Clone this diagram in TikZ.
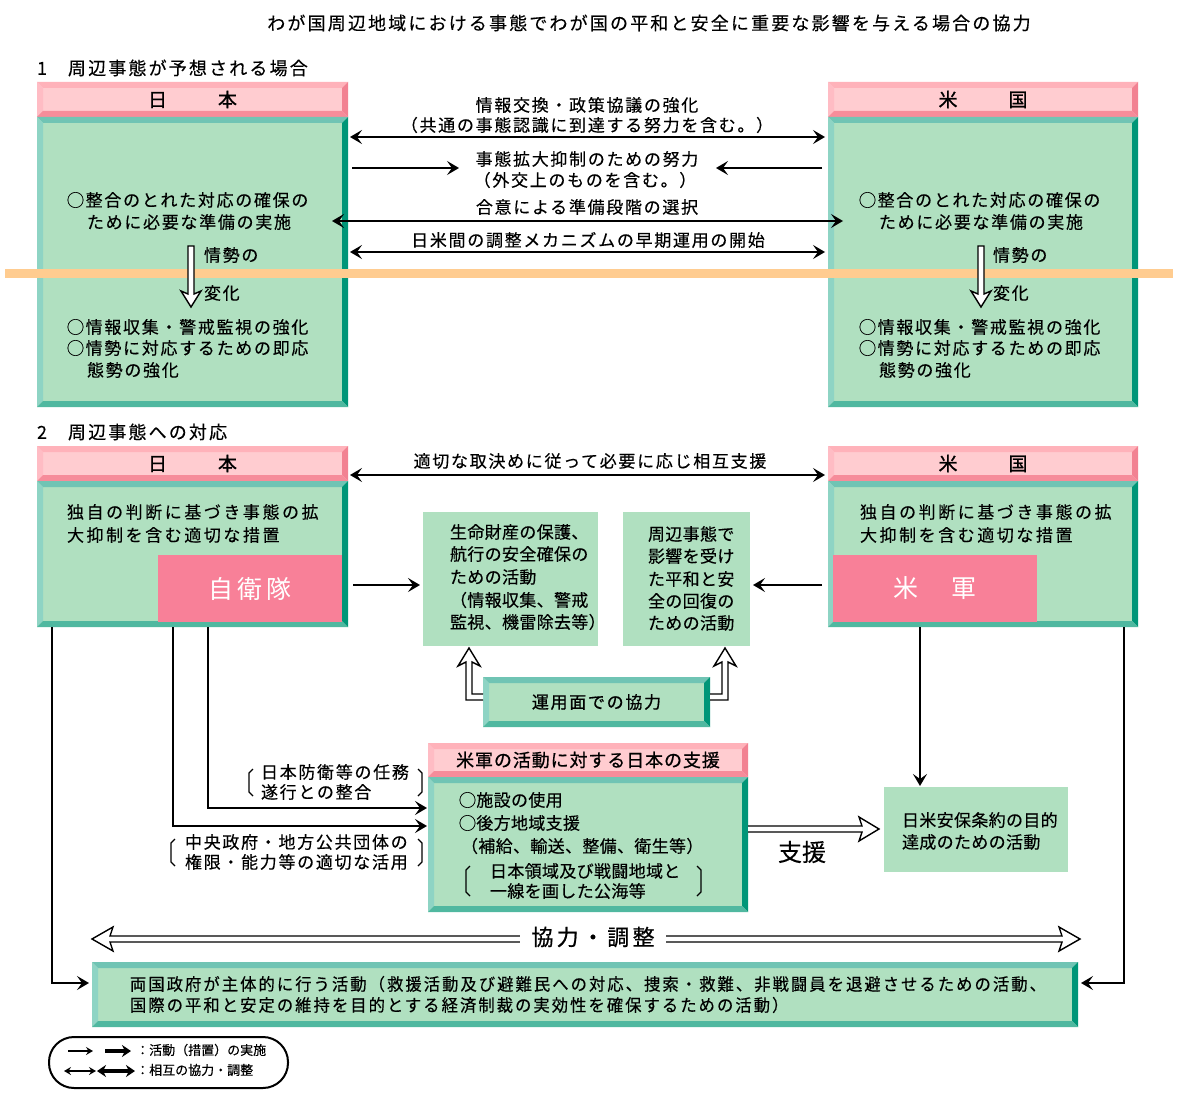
\documentclass[tikz,border=0pt]{standalone}
\usepackage{fontspec}
\setmainfont{Noto Sans CJK JP}
\newfontfamily\jpN{Noto Sans CJK JP}[FakeBold=0.3]
\newfontfamily\jpA{Noto Sans CJK JP}[LetterSpace=10,FakeBold=0.3]
\newfontfamily\jpS{Noto Sans CJK JP}[LetterSpace=2,FakeBold=0.3]
\newfontfamily\jpW{Noto Sans CJK JP}[LetterSpace=15,FakeBold=0.3]
\newfontfamily\jpC{Noto Sans CJK JP}[LetterSpace=12,FakeStretch=0.96,FakeBold=0.3]
\newfontfamily\jpT{Noto Sans CJK JP}[LetterSpace=12,FakeBold=0.3]
\newfontfamily\jpF{Noto Sans CJK JP}[LetterSpace=15]
\newfontfamily\jpB{Noto Sans CJK JP}[FakeBold=1.2]
\newfontfamily\jpBs{Noto Sans CJK JP}[FakeBold=0.8,LetterSpace=5]
\newfontfamily\jpBm{Noto Sans CJK JP}[FakeBold=0.8,LetterSpace=10]
\newfontfamily\jpBk{Noto Sans CJK JP}[FakeBold=0.8,LetterSpace=15]
\usetikzlibrary{arrows.meta,calc}
\definecolor{pkF}{RGB}{255,204,208}
\definecolor{pkT}{RGB}{255,178,186}
\definecolor{pkL}{RGB}{255,188,196}
\definecolor{pkR}{RGB}{242,130,146}
\definecolor{pkB}{RGB}{246,140,154}
\definecolor{gnF}{RGB}{176,224,192}
\definecolor{gnT}{RGB}{112,196,180}
\definecolor{gnL}{RGB}{142,212,196}
\definecolor{gnR}{RGB}{0,150,120}
\definecolor{gnB}{RGB}{80,184,160}
\definecolor{bandc}{RGB}{255,204,144}
\definecolor{forcec}{RGB}{248,128,152}
\tikzset{
  bev/.style n args={5}{rectangle, inner sep=0pt, outer sep=0pt, anchor=north west, fill=#1,
    path picture={
      \coordinate (bbnw) at (path picture bounding box.north west);
      \coordinate (bbne) at (path picture bounding box.north east);
      \coordinate (bbsw) at (path picture bounding box.south west);
      \coordinate (bbse) at (path picture bounding box.south east);
      \fill[#2] (bbnw) -- (bbne) -- ($(bbne)+(-6,6)$) -- ($(bbnw)+(6,6)$) -- cycle;
      \fill[#3] (bbnw) -- ($(bbnw)+(6,6)$) -- ($(bbsw)+(6,-6)$) -- (bbsw) -- cycle;
      \fill[#4] (bbne) -- (bbse) -- ($(bbse)+(-6,-6)$) -- ($(bbne)+(-6,6)$) -- cycle;
      \fill[#5] (bbsw) -- (bbse) -- ($(bbse)+(-6,-6)$) -- ($(bbsw)+(6,-6)$) -- cycle;
    }},
  hd/.style={bev={pkF}{pkT}{pkL}{pkR}{pkB}},
  bd/.style={bev={gnF}{gnT}{gnL}{gnR}{gnB}},
  flat/.style={rectangle, inner sep=0pt, outer sep=0pt, anchor=north west, fill=gnF},
  forcebox/.style={rectangle, inner sep=0pt, outer sep=0pt, anchor=north west, fill=forcec,
    text=white, font=\fontsize{25}{28}\selectfont\jpF},
  tA/.style={inner sep=0pt, outer sep=0pt, anchor=west, font=\fontsize{17}{20}\selectfont\jpA},
  tS/.style={tA, font=\fontsize{17}{20}\selectfont\jpS},
  tW/.style={tA, font=\fontsize{17}{20}\selectfont\jpW},
  tC/.style={tA, font=\fontsize{17}{20}\selectfont\jpC},
  tc/.style={tA, anchor=center},
  hfont/.style={font=\fontsize{19}{20}\selectfont\jpB},
  arr/.style={line width=1.8pt, -{Stealth[length=12pt,width=14pt,inset=5pt]}},
  biarr/.style={line width=1.8pt, {Stealth[length=12pt,width=14pt,inset=5pt]}-{Stealth[length=12pt,width=14pt,inset=5pt]}},
  hollowsty/.style={fill=white, draw=black, line width=1.4pt, line join=miter},
  brk/.style={line width=1.2pt},
  pics/hol/.style n args={4}{code={
    \filldraw[hollowsty] (0,-#2) -- ({#1-#4},-#2) -- ({#1-#4-3},-#3) -- (#1,0) -- ({#1-#4-3},#3) -- ({#1-#4},#2) -- (0,#2) -- cycle;}},
  pics/holo/.style n args={4}{code={
    \filldraw[hollowsty] (0,-#2) -- ({#1-#4},-#2) -- ({#1-#4-3},-#3) -- (#1,0) -- ({#1-#4-3},#3) -- ({#1-#4},#2) -- (0,#2);}},
  pics/holtwo/.style n args={4}{code={
    \filldraw[hollowsty] (0,0) -- ({#4+3},-#3) -- (#4,-#2) -- ({#1-#4},-#2) -- ({#1-#4-3},-#3) -- (#1,0) -- ({#1-#4-3},#3) -- ({#1-#4},#2) -- (#4,#2) -- ({#4+3},#3) -- cycle;}},
}
\begin{document}
\begin{tikzpicture}[x=1pt,y=-1pt]
\useasboundingbox (0,0) rectangle (1178,1097);
\fill[white] (0,0) rectangle (1178,1097);

% ---------- title and section labels
\node[inner sep=0pt, font=\fontsize{18}{20}\selectfont\jpT] (title) at (649,23)
  {わが国周辺地域における事態でわが国の平和と安全に重要な影響を与える場合の協力};
\node[tA, font=\fontsize{18}{20}\selectfont\jpT] (sec1) at (37,68) {\makebox[31pt][l]{1}周辺事態が予想される場合};
\node[tA, font=\fontsize{18}{20}\selectfont\jpT] (sec2) at (37,432) {\makebox[31pt][l]{2}周辺事態への対応};

% ---------- section 1 boxes
\node[hd, hfont, minimum width=311, minimum height=35] (jh1) at (37,82) {日\hspace{51pt}本};
\node[bd, minimum width=311, minimum height=290] (jb1) at (37,117) {};
\node[hd, hfont, minimum width=310, minimum height=35] (uh1) at (828,82) {米\hspace{51pt}国};
\node[bd, minimum width=310, minimum height=290] (ub1) at (828,117) {};

% ---------- section 2 boxes
\node[hd, hfont, minimum width=311, minimum height=35] (jh2) at (37,446) {日\hspace{51pt}本};
\node[bd, minimum width=311, minimum height=146] (jb2) at (37,481) {};
\node[hd, hfont, minimum width=310, minimum height=35] (uh2) at (828,446) {米\hspace{51pt}国};
\node[bd, minimum width=310, minimum height=146] (ub2) at (828,481) {};
\node[forcebox, minimum width=184, minimum height=67] (sdf) at (158,555) {自衛隊};
\node[forcebox, minimum width=204, minimum height=67] (usf) at (833,555) {米　軍};

\node[flat, minimum width=175, minimum height=134] (boxA) at (423,512) {};
\node[flat, minimum width=127, minimum height=134] (boxB) at (623,512) {};
\node[bd, minimum width=227, minimum height=50, font=\fontsize{17}{20}\selectfont\jpBm] (coop) at (483,677) {運用面での協力\hspace{6pt}};
\node[hd, minimum width=320, minimum height=34, font=\fontsize{18}{20}\selectfont\jpBs] (sh) at (428,743) {米軍の活動に対する日本の支援};
\node[bd, minimum width=320, minimum height=135] (sb) at (428,777) {};
\node[flat, minimum width=184, minimum height=85] (anpo) at (884,787) {};
\node[bd, minimum width=986, minimum height=65] (bottom) at (92,962) {};

% ---------- orange band
\fill[bandc] (5,269) rectangle (1173,278);

% ---------- section 1 texts
\node[tA] (j1a) at (67,200) {◯整合のとれた対応の確保の};
\node[tA] (j1b) at (87,222) {ために必要な準備の実施};
\node[tA] (j1c) at (204,255) {情勢の};
\node[tA] (j1d) at (204,293) {変化};
\node[tA] (j1e) at (67,327) {◯情報収集・警戒監視の強化};
\node[tA] (j1f) at (67,348) {◯情勢に対応するための即応};
\node[tA] (j1g) at (87,370) {態勢の強化};

\node[tA] (u1a) at (859,200) {◯整合のとれた対応の確保の};
\node[tA] (u1b) at (879,222) {ために必要な準備の実施};
\node[tA] (u1c) at (993,255) {情勢の};
\node[tA] (u1d) at (993,293) {変化};
\node[tA] (u1e) at (859,327) {◯情報収集・警戒監視の強化};
\node[tA] (u1f) at (859,348) {◯情勢に対応するための即応};
\node[tA] (u1g) at (879,370) {態勢の強化};

\pic[rotate=-90] at (191,246) {hol={61}{3}{10}{13}};
\pic[rotate=-90] at (981,246) {hol={61}{3}{10}{13}};

\node[tc] (m1a) at (587,105) {情報交換・政策協議の強化};
\node[tc] (m1b) at (587,125) {（共通の事態認識に到達する努力を含む。）};
\node[tc] (m2a) at (587,159) {事態拡大抑制のための努力};
\node[tc] (m2b) at (585,180) {（外交上のものを含む。）};
\node[tc] (m3) at (587,207) {合意による準備段階の選択};
\node[tc] (m4) at (588,240) {日米間の調整メカニズムの早期運用の開始};

\coordinate (r1) at (0,137);
\coordinate (r2) at (0,168);
\coordinate (r3) at (0,221);
\coordinate (r4) at (0,252);
\coordinate (e2a) at (459,168);
\coordinate (e2b) at (716,168);
\draw[biarr] ($(jb1.east|-r1)+(2,0)$) -- ($(ub1.west|-r1)+(-3,0)$);
\draw[arr] ($(jb1.east|-r2)+(4,0)$) -- (e2a);
\draw[arr] ($(ub1.west|-r2)+(-6,0)$) -- (e2b);
\draw[biarr] ($(jb1.east|-r3)+(-16,0)$) -- ($(ub1.west|-r3)+(15,0)$);
\draw[biarr] ($(jb1.east|-r4)+(2,0)$) -- ($(ub1.west|-r4)+(-3,0)$);

% ---------- section 2 texts
\node[tc] (m5) at (590,461) {適切な取決めに従って必要に応じ相互支援};
\node[tW] (j2a) at (67,512) {独自の判断に基づき事態の拡};
\node[tW] (j2b) at (67,535) {大抑制を含む適切な措置};
\node[tW] (u2a) at (860,512) {独自の判断に基づき事態の拡};
\node[tW] (u2b) at (860,535) {大抑制を含む適切な措置};

\node[tS] (a1) at (450,532) {生命財産の保護、};
\node[tS] (a2) at (450,554) {航行の安全確保の};
\node[tS] (a3) at (450,577) {ための活動};
\node[tS] (a4) at (450,600) {（情報収集、警戒};
\node[tS] (a5) at (450,622) {監視、機雷除去等）};

\node[tS] (bb1) at (648,534) {周辺事態で};
\node[tS] (bb2) at (648,556) {影響を受け};
\node[tS] (bb3) at (648,579) {た平和と安};
\node[tS] (bb4) at (648,601) {全の回復の};
\node[tS] (bb5) at (648,623) {ための活動};

\node[tS] (s1) at (459,800) {◯施設の使用};
\node[tS] (s2) at (459,823) {◯後方地域支援};
\node[tS] (s3) at (461,846) {（補給、輸送、整備、衛生等）};
\node[tS] (s4) at (490,871) {日本領域及び戦闘地域と};
\node[tS] (s5) at (490,891) {一線を画した公海等};
\draw[brk] (470,866) -- (466,870) -- (466,892) -- (470,896);
\draw[brk] (697,866) -- (701,870) -- (701,892) -- (697,896);

\node[tA] (k1a) at (261,772) {日本防衛等の任務};
\node[tA] (k1b) at (261,792) {遂行との整合};
\draw[brk] (253,769) -- (249,773) -- (249,792) -- (253,796);
\draw[brk] (418,769) -- (422,773) -- (422,792) -- (418,796);
\node[tA] (k2a) at (185,842) {中央政府・地方公共団体の};
\node[tA] (k2b) at (185,862) {権限・能力等の適切な活用};
\draw[brk] (175,839) -- (171,843) -- (171,862) -- (175,866);
\draw[brk] (418,839) -- (422,843) -- (422,862) -- (418,866);

\node[tS] (n1) at (902,820) {日米安保条約の目的};
\node[tS] (n2) at (902,842) {達成のための活動};

\node[tC] (bt1) at (130,984) {両国政府が主体的に行う活動（救援活動及び避難民への対応、捜索・救難、非戦闘員を退避させるための活動、};
\node[tC] (bt2) at (130,1005) {国際の平和と安定の維持を目的とする経済制裁の実効性を確保するための活動）};

% ---------- section 2 connectors
\coordinate (r5) at (0,475);
\coordinate (r6) at (0,585);
\draw[biarr] ($(jh2.east|-r5)+(2,0)$) -- ($(uh2.west|-r5)+(-3,0)$);
\draw[arr] ($(jb2.east|-r6)+(5,0)$) -- ($(boxA.west|-r6)+(-3,0)$);
\draw[arr] ($(ub2.west|-r6)+(-6,0)$) -- ($(boxB.east|-r6)+(3,0)$);

\coordinate (x52) at (52,0);
\coordinate (x173) at (173,0);
\coordinate (x208) at (208,0);
\coordinate (x920) at (920,0);
\coordinate (x1124) at (1124,0);
\coordinate (y983) at (0,983);
\coordinate (y826) at (0,826);
\coordinate (y808) at (0,808);
\coordinate (y829) at (0,829);
\draw[arr] (jb2.south-|x52) |- ($(bottom.west|-y983)+(-3,0)$);
\draw[arr] (jb2.south-|x173) |- ($(sb.west|-y826)+(-1,0)$);
\draw[arr] (jb2.south-|x208) |- ($(sb.west|-y808)+(-1,0)$);
\draw[arr] (ub2.south-|x920) -- ($(anpo.north-|x920)+(0,-1)$);
\draw[arr] (ub2.south-|x1124) |- ($(bottom.east|-y983)+(3,0)$);

% hollow elbow arrows from the cooperation box
\coordinate (yu1) at (0,694);
\coordinate (yu2) at (0,700);
\filldraw[hollowsty] (coop.west|-yu1) -- (472,694) -- (472,662) -- (480,666) -- (469,648) -- (458,666) -- (466,662) -- (466,700) -- (coop.west|-yu2);
\filldraw[hollowsty] (coop.east|-yu1) -- (722,694) -- (722,662) -- (714,666) -- (725,648) -- (736,666) -- (728,662) -- (728,700) -- (coop.east|-yu2);

% support arrow
\pic at ($(sb.east|-y829)+(0,0)$) {holo={131}{3}{12}{17}};
\node[inner sep=0pt, font=\fontsize{24}{26}\selectfont\jpN] (sien) at (802,852) {支援};

% cooperation / coordination arrow
\pic at (92,939) {holtwo={988}{3}{12}{18}};
\node[fill=white, inner xsep=11pt, inner ysep=1pt, font=\fontsize{22}{24}\selectfont\jpBk] (kc) at (593,937) {協力・調整};

% ---------- legend
\node[draw, line width=2pt, rounded corners=25pt, minimum width=239, minimum height=51, anchor=north west, inner sep=0pt] (legend) at (48,1036) {};
\coordinate (la1) at (68,1051);
\coordinate (la2) at (93,1051);
\coordinate (lb1) at (105,1051);
\coordinate (lb2) at (131,1051);
\coordinate (lc1) at (64,1071);
\coordinate (lc2) at (96,1071);
\coordinate (ld1) at (97,1071);
\coordinate (ld2) at (135,1071);
\draw[line width=1.5pt, -{Stealth[length=7pt,width=8pt,inset=2.5pt]}] (la1) -- (la2);
\draw[line width=4pt, -{Stealth[length=9pt,width=12pt,inset=3pt]}] (lb1) -- (lb2);
\draw[line width=1.5pt, {Stealth[length=7pt,width=8pt,inset=2.5pt]}-{Stealth[length=7pt,width=8pt,inset=2.5pt]}] (lc1) -- (lc2);
\draw[line width=4pt, {Stealth[length=9pt,width=12pt,inset=3pt]}-{Stealth[length=9pt,width=12pt,inset=3pt]}] (ld1) -- (ld2);
\node[inner sep=0pt, anchor=west, font=\fontsize{13}{14}\selectfont\jpN] (lt1) at (136,1050) {：活動（措置）の実施};
\node[inner sep=0pt, anchor=west, font=\fontsize{13}{14}\selectfont\jpN] (lt2) at (136,1070) {：相互の協力・調整};
\end{tikzpicture}
\end{document}
